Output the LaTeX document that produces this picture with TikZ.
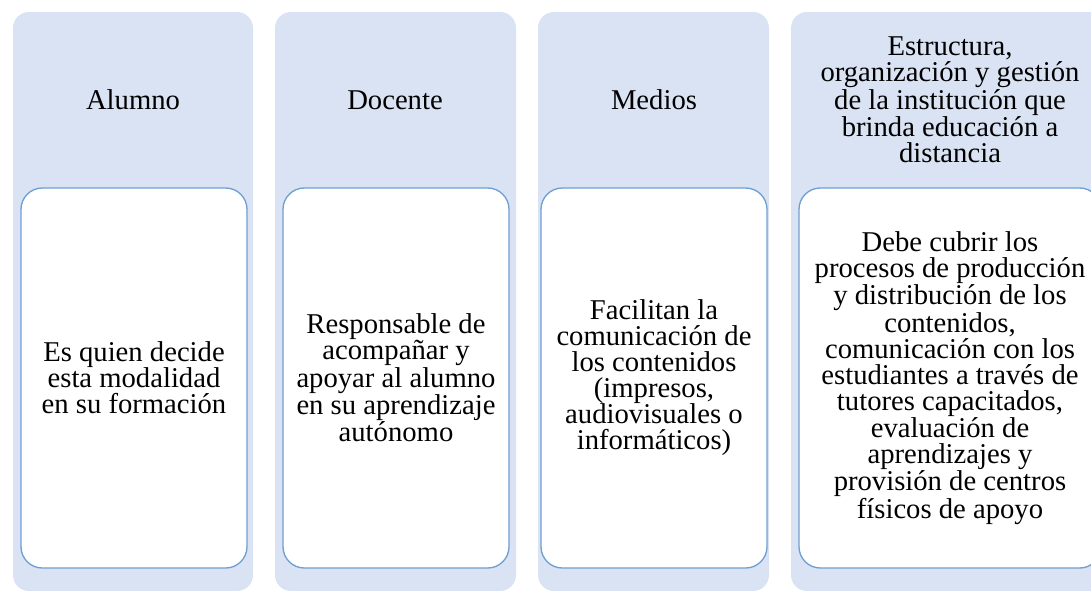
\documentclass[tikz,border=0pt]{standalone}
\usepackage{fontspec}
\setmainfont{Liberation Serif}
\definecolor{bandfill}{HTML}{DAE3F3}
\definecolor{cardline}{HTML}{6F9FD3}
\tikzset{
  band/.style={fill=bandfill, rounded corners=12pt},
  card/.style={draw=cardline, fill=white, line width=1pt, rounded corners=16pt},
  txt/.style={align=center, inner sep=0pt, font=\fontsize{21.5}{19.5}\selectfont},
}

\begin{document}
\begin{tikzpicture}[x=0.75pt,y=-0.75pt]

\useasboundingbox (0,0) rectangle (1091,590);
\clip (0,0) rectangle (1091,590);

% background bands
\fill[band] (13,12) rectangle (253,591);
\fill[band] (275,12) rectangle (516,591);
\fill[band] (538,12) rectangle (769,591);
\fill[band] (791,12) rectangle (1109,591);

% white cards
\draw[card] (21,188) rectangle (247,568);
\draw[card] (283,188) rectangle (509,568);
\draw[card] (541,188) rectangle (767,568);
\draw[card] (799,188) rectangle (1101,568);

% headers
\node[txt] (alumno) at (133,100) {Alumno};
\node[txt] (docente) at (395,100) {Docente};
\node[txt] (medios) at (654,100) {Medios};
\node[txt] (estructura) at (950,100) {Estructura,\\ organización y gestión\\ de la institución que\\ brinda educación a\\ distancia};

% card texts
\node[txt] (alumnotxt) at (134,378) {Es quien decide\\ esta modalidad\\ en su formación};
\node[txt] (docentetxt) at (396,378) {Responsable de\\ acompañar y\\ apoyar al alumno\\ en su aprendizaje\\ autónomo};
\node[txt] (mediostxt) at (654,378) {Facilitan la\\ comunicación de\\ los contenidos\\ (impresos,\\ audiovisuales o\\ informáticos)};
\node[txt] (estructuratxt) at (950,378) {Debe cubrir los\\ procesos de producción\\ y distribución de los\\ contenidos,\\ comunicación con los\\ estudiantes a través de\\ tutores capacitados,\\ evaluación de\\ aprendizajes y\\ provisión de centros\\ físicos de apoyo};

\end{tikzpicture}
\end{document}
